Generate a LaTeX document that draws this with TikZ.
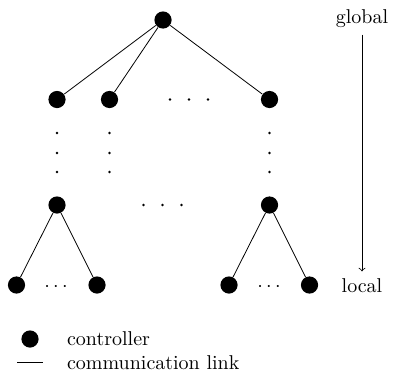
\documentclass[tikz,border=0pt]{standalone}
\usepackage{tikz}
\usetikzlibrary{positioning}

\begin{document}
\begin{tikzpicture}
    [
        x=0.5pt, y=-0.5pt,
        controller/.style = {
            circle, fill=black, inner sep=0pt, minimum size=8.6pt
            },
        dotmark/.style = {
            fill=black
            },
    ]
    \useasboundingbox (0,0) rectangle (394,375);
    %nodes
    \node[controller] (root) at (163,20) {};
    \node[controller] (mid a) at (57,99.5) {};
    \node[controller] (mid b) at (109.5,99.5) {};
    \node[controller] (mid c) at (269.5,99.5) {};
    \node[controller] (sub left) at (57,205) {};
    \node[controller] (sub right) at (269.5,205) {};
    \node[controller] (leaf la) at (16.5,285) {};
    \node[controller] (leaf lb) at (97,285) {};
    \node[controller] (leaf ra) at (229,285) {};
    \node[controller] (leaf rb) at (309.5,285) {};
    \node (leaf ldots) at (56,287) {$\cdots$};
    \node (leaf rdots) at (269,287) {$\cdots$};
    %dots between levels
    \foreach \x in {170,189,208}
        \fill[dotmark] (\x,99.5) circle[radius=0.65pt];
    \foreach \x in {143.5,162.5,181.5}
        \fill[dotmark] (\x,205) circle[radius=0.65pt];
    \foreach \x in {57,109.5,269.5}
        \foreach \y in {133,153,172}
            \fill[dotmark] (\x,\y) circle[radius=0.65pt];
    %scale
    \node (global) at (362,18.5) {global};
    \node (local) at (362,285.5) {local};
    %legend
    \node[controller] (legend controller) at (30,339) {};
    \node[anchor=west] (controller text) at (60,339) {controller};
    \coordinate (link start) at (17,362);
    \coordinate (link end) at (43,362);
    \node[anchor=west] (link text) at (60,363) {communication link};
    %connecting nodes
    \draw (root) to (mid a);
    \draw (root) to (mid b);
    \draw (root) to (mid c);
    \draw (sub left) to (leaf la);
    \draw (sub left) to (leaf lb);
    \draw (sub right) to (leaf ra);
    \draw (sub right) to (leaf rb);
    \draw [->] (global) to (local);
    \draw (link start) to (link end);

\end{tikzpicture}
\end{document}
